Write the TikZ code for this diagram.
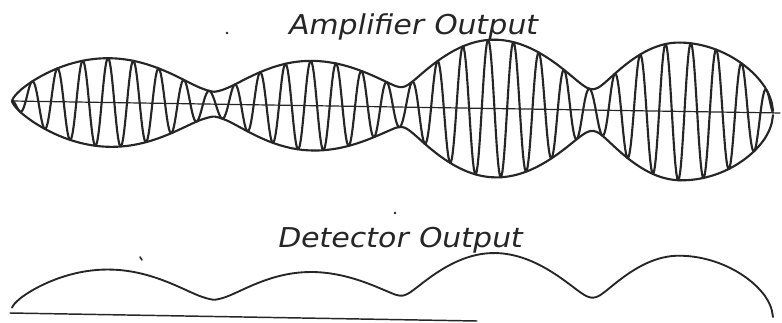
\documentclass[tikz,border=0pt]{standalone}
\usepackage{fontspec}
\newfontfamily\handfont[FakeSlant=0.2,FakeStretch=1.1]{DejaVu Sans}
% lo/hi, then peak/height/spread/exponent of the two lobes, then waist/rounding (in px)
\newcommand{\lobelist}{12/110/110/44.3/98/0.7/110/0/98/1/0/0,
  110/312/110/43/103/0.85/312/43.5/97/0.85/9/10,
  312/495/312/43.5/105/0.85/495/68/100/0.85/13/10,
  495/680/495/68/104/0.85/680/68/93/0.85/17/10,
  680/773/680/68.85/93/0.5/680/0/93/1/0/0}

\begin{document}
\begin{tikzpicture}[x=0.75pt, y=-0.75pt,
  declare function={
    axisy(\x)=101+0.0156*(\x-12);
    dety(\x)=308+0.0145*(\x-12);
    arch(\x,\p,\h,\s,\q)=\h*pow(max(cos(min(90,abs(\x-\p)/\s*90)),0.001),\q);
    smax(\a,\b,\k)=(\a+\b+sqrt((\a-\b)^2+\k^2))/2;
  },
  ink/.style={draw=black!85, line cap=round, line join=round},
  wave/.style={ink, line width=1.6pt},
  axisline/.style={ink, line width=0.9pt},
  handtext/.style={font=\handfont\fontsize{20.5}{24}\selectfont, anchor=base,
                   inner sep=0pt, text=black!85}]
\useasboundingbox (0,0) rectangle (782,322);
\node[handtext] (ampl) at (412,34)  {Amplifier Output};
\node[handtext] (det)  at (399,247) {Detector Output};
% axes
\draw[axisline] (12,{axisy(12)}) -- (780,{axisy(780)});
\draw[axisline, line width=1.1pt] (10,313) -- (477,321);
% carrier, envelope and detected wave, from peak to peak
\foreach \lo/\hi/\pa/\ha/\sa/\qa/\pb/\hb/\sb/\qb/\wst/\rnd in \lobelist {
  \def\env{smax(smax(arch(\x,\pa,\ha,\sa,\qa),arch(\x,\pb,\hb,\sb,\qb),\rnd),\wst,\rnd)}
  \draw[wave] plot[domain=\lo:\hi, samples=200]
    (\x, {axisy(\x)-\env*cos(14.207*(\x-32))});
  \draw[wave] plot[domain=\lo:\hi, samples=80] (\x, {axisy(\x)-\env});
  \draw[wave] plot[domain=\lo:\hi, samples=80] (\x, {axisy(\x)+\env});
  \draw[wave, line width=1.4pt] plot[domain=\lo:\hi, samples=80]
    (\x, {dety(\x)-0.9*\env});
}
% stray specks of the print
\fill[black!85] (227,33) circle[radius=1pt];
\fill[black!85] (395,213) circle[radius=1pt];
\draw[ink, line width=1.2pt] (140,257) -- (142,260);
\end{tikzpicture}
\end{document}
